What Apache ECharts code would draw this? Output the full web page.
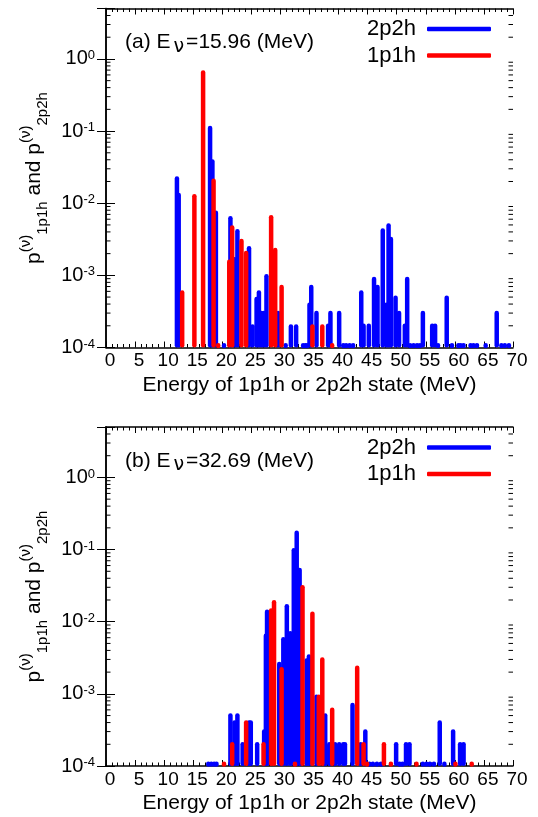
<!DOCTYPE html>
<html><head><meta charset="utf-8">
<script src="https://cdn.jsdelivr.net/npm/echarts@6/dist/echarts.min.js"></script>
<style>html,body{margin:0;padding:0;background:#fff}#c{width:538px;height:817px}</style>
</head><body><div id="c"></div>
<script>
// ---------- data ----------
const xMin = 0, xMax = 70, xStep = 5;
const yMin = 1e-4, yMax = 5;
const minorYTicks = [];
[-4,-3,-2,-1,0].forEach(function(d){ for (let m = 2; m <= 9; m++) { const v = m * Math.pow(10, d); if (v < yMax) minorYTicks.push(+v.toPrecision(3)); } });

const titleA = '(a) E';
const titleB = '(b) E';
const energyA = '=15.96 (MeV)';
const energyB = '=32.69 (MeV)';
const seriesNames = ['2p2h', '1p1h'];
const xAxisTitle = 'Energy of 1p1h or 2p2h state (MeV)';

// panel (a): [energy MeV, probability]
const a2p2h = [[12.2,0.022],[12.5,0.013],[17.9,0.11],[18.3,0.038],[18.9,0.0074],[20.3,1.05e-4],[21.4,0.0062],[22.1,0.00167],[22.6,0.0041],[24.6,0.00237],[25.2,1.96e-4],[25.9,4.7e-4],[26.3,5.8e-4],[26.7,3.0e-4],[27.1,3.0e-4],[27.6,9.7e-4],[29.6,3.0e-4],[30.9,1.05e-4],[31.8,1.96e-4],[32.7,1.96e-4],[33.9,1.05e-4],[34.3,1.05e-4],[34.6,1.05e-4],[35.0,3.9e-4],[35.3,6.9e-4],[36.2,3.0e-4],[38.2,2e-4],[38.6,3e-4],[40.1,3e-4],[40.8,1.05e-4],[41.3,1.05e-4],[41.9,1.05e-4],[42.5,1.05e-4],[43.9,5.8e-4],[44.3,2e-4],[45.2,2e-4],[46.1,8.9e-4],[46.7,6.9e-4],[47.6,0.0042],[48.2,3.9e-4],[48.6,0.0049],[49.0,0.0032],[49.8,4.9e-4],[50.4,3e-4],[51.4,2e-4],[51.8,8.9e-4],[52.3,1.05e-4],[52.9,1.05e-4],[53.5,1.05e-4],[54.0,1.05e-4],[54.5,3e-4],[56.1,2e-4],[56.6,2e-4],[57.1,1.05e-4],[58.6,4.9e-4],[59.5,1.05e-4],[60.6,1.05e-4],[61.0,1.05e-4],[61.5,1.05e-4],[62.7,1.05e-4],[63.2,1.05e-4],[63.8,1.05e-4],[65.3,1.05e-4],[67.2,3e-4],[68.0,1.05e-4],[68.6,1.05e-4],[69.3,1.05e-4]];
const a1p1h = [[13.1,5.8e-4],[15.2,0.0125],[16.7,0.65],[18.5,0.0205],[19.3,1.05e-4],[21.2,0.00155],[21.7,0.0046],[23.3,0.003],[24.1,0.00204],[28.4,0.0064],[29.1,0.00225],[30.2,6.9e-4],[35.5,1.96e-4],[37.2,1.96e-4],[38.9,1.05e-4]];

// panel (b)
const b2p2h = [[17.6,1.05e-4],[18.1,1.05e-4],[18.6,1.05e-4],[19.0,1.05e-4],[21.4,5e-4],[22.1,4e-4],[22.6,5e-4],[23.5,2e-4],[24.6,4e-4],[24.9,4e-4],[26.0,2e-4],[27.2,3e-4],[27.5,0.0064],[27.7,0.0137],[29.8,0.0026],[30.5,0.0057],[31.1,0.0164],[31.7,0.0069],[32.3,0.098],[32.8,0.171],[33.3,0.052],[34.5,0.0029],[34.9,0.0033],[36.2,9.1e-4],[37.7,5e-4],[38.4,2e-4],[39.4,2e-4],[40.1,2e-4],[40.8,2e-4],[41.1,2e-4],[42.4,7e-4],[43.8,2e-4],[44.6,3e-4],[45.3,1.05e-4],[45.9,1.05e-4],[46.6,1.05e-4],[47.3,1.05e-4],[49.9,2e-4],[50.5,1.05e-4],[51.0,1.05e-4],[51.6,2e-4],[52.2,2e-4],[54.5,1.05e-4],[55.1,1.05e-4],[55.7,1.05e-4],[56.4,1.05e-4],[57.4,4e-4],[58.2,1.05e-4],[59.7,3e-4],[60.9,2e-4],[61.5,2e-4]];
const b1p1h = [[20.3,1.05e-4],[21.7,2e-4],[24.1,4e-4],[27.1,2e-4],[28.4,0.0143],[28.9,0.0186],[30.2,0.0022],[32.5,1.05e-4],[33.8,0.030],[35.5,0.0129],[36.6,9.1e-4],[37.2,0.003],[38.9,6e-4],[43.2,0.0023],[44.3,2e-4],[44.9,1.05e-4],[47.8,2e-4],[49.0,1.05e-4],[53.4,1.05e-4],[60.1,1.05e-4],[62.9,1.05e-4]];

// ---------- chart ----------
const FONT = '"Liberation Sans", Arial, sans-serif';
const BLUE = '#0000ff', RED = '#ff0000';
const chart = echarts.init(document.getElementById('c'), null, {renderer: 'canvas'});

const grids = [
  {left: 106, top: 8.5, width: 407, height: 339},
  {left: 106, top: 427, width: 407, height: 339}
];

function yLabel(v) {
  const e = Math.log10(v);
  const r = Math.round(e);
  if (Math.abs(e - r) > 1e-6) return '';
  return '{b|10}{s|' + r + '}';
}

function spike(params, api) {
  const x = api.value(0), v = api.value(1);
  const top = api.coord([x, v]);
  const base = api.coord([x, yMin]);
  return {type: 'line', shape: {x1: top[0], y1: base[1] - 2.2, x2: top[0], y2: top[1]},
    style: {stroke: api.visual('color'), lineWidth: 4.5, lineCap: 'round'}};
}
function minorTick(params, api) {
  const v = api.value(1);
  const l = api.coord([xMin, v]), r = api.coord([xMax, v]);
  return {type: 'group', children: [
    {type: 'line', shape: {x1: l[0], y1: l[1], x2: l[0] + 4.5, y2: l[1]}, style: {stroke: '#000', lineWidth: 1}},
    {type: 'line', shape: {x1: r[0] - 4.5, y1: r[1], x2: r[0], y2: r[1]}, style: {stroke: '#000', lineWidth: 1}}
  ]};
}

const xAxes = [], yAxes = [], series = [], titles = [], legends = [];
const panels = [
  {t: titleA, e: energyA, s2: a2p2h, s1: a1p1h},
  {t: titleB, e: energyB, s2: b2p2h, s1: b1p1h}
];
const axisLineStyle = {color: '#000', width: 1.5};
panels.forEach(function(p, i) {
  const g = grids[i];
  xAxes.push({type: 'value', gridIndex: i, min: xMin, max: xMax, interval: xStep, position: 'bottom',
    axisLine: {onZero: false, lineStyle: axisLineStyle},
    axisTick: {inside: true, length: 6, lineStyle: {color: '#000'}},
    minorTick: {show: true, splitNumber: 5, length: 3.5, lineStyle: {color: '#000'}},
    splitLine: {show: false},
    axisLabel: {fontSize: 19, color: '#000', fontFamily: FONT, margin: 4, padding: [0, 0, 0, 8]},
    name: xAxisTitle, nameLocation: 'middle', nameGap: 27,
    nameTextStyle: {fontSize: 21, color: '#000', fontFamily: FONT}});
  xAxes.push({type: 'value', gridIndex: i, min: xMin, max: xMax, interval: xStep, position: 'top',
    axisLine: {onZero: false, lineStyle: axisLineStyle},
    axisTick: {inside: true, length: 6, lineStyle: {color: '#000'}},
    minorTick: {show: true, splitNumber: 5, length: 3.5, lineStyle: {color: '#000'}},
    splitLine: {show: false}, axisLabel: {show: false}});
  yAxes.push({type: 'log', logBase: 10, gridIndex: i, min: yMin, max: yMax, position: 'left',
    axisLine: {show: true, lineStyle: axisLineStyle},
    axisTick: {inside: true, length: 9, lineStyle: {color: '#000'}},
    splitLine: {show: false},
    axisLabel: {formatter: yLabel, margin: 11, color: '#000', fontFamily: FONT,
      rich: {b: {fontSize: 20, lineHeight: 20, fontFamily: FONT, color: '#000'},
             s: {fontSize: 13, lineHeight: 9, verticalAlign: 'top', fontFamily: FONT, color: '#000'}}},
    name: '{m|p}{sup|(ν)}{sub|1p1h}{m| and p}{sup|(ν)}{sub|2p2h}',
    nameLocation: 'middle', nameRotate: 90, nameGap: 52,
    nameTextStyle: {color: '#000', fontFamily: FONT,
      rich: {m: {fontSize: 21, lineHeight: 32, fontFamily: FONT, color: '#000'},
             sup: {fontSize: 15, lineHeight: 26, verticalAlign: 'top', fontFamily: FONT, color: '#000'},
             sub: {fontSize: 15, lineHeight: 14, verticalAlign: 'bottom', fontFamily: FONT, color: '#000'}}}});
  yAxes.push({type: 'log', logBase: 10, gridIndex: i, min: yMin, max: yMax, position: 'right',
    axisLine: {show: true, lineStyle: axisLineStyle},
    axisTick: {inside: true, length: 9, lineStyle: {color: '#000'}},
    splitLine: {show: false}, axisLabel: {show: false}});
  const xi = i * 2, yi = i * 2;
  series.push({type: 'custom', name: seriesNames[0], xAxisIndex: xi, yAxisIndex: yi, data: p.s2,
    renderItem: spike, itemStyle: {color: BLUE}, z: 3});
  series.push({type: 'custom', name: seriesNames[1], xAxisIndex: xi, yAxisIndex: yi, data: p.s1,
    renderItem: spike, itemStyle: {color: RED}, z: 4});
  series.push({type: 'custom', xAxisIndex: xi, yAxisIndex: yi, silent: true,
    data: minorYTicks.map(function(v){ return [xMin, v]; }), renderItem: minorTick, z: 5});
  titles.push({text: '{m|' + p.t + '}{nu|ν}{m|' + p.e + '}', left: 125, top: g.top + 20, padding: 0,
    textStyle: {fontWeight: 'normal', rich: {m: {fontSize: 21, lineHeight: 28, fontWeight: 'normal', fontFamily: FONT, color: '#000'},
                       nu: {fontSize: 19, lineHeight: 20, fontWeight: 'normal', verticalAlign: 'bottom', fontFamily: 'DejaVu Sans', color: '#000', padding: [0, 2, 0, 3]}}}});
  legends.push({data: seriesNames, orient: 'vertical', align: 'right', right: 47, top: g.top + 9.5,
    itemWidth: 64, itemHeight: 4.5, itemGap: 4.5, icon: 'roundRect', padding: 0,
    textStyle: {fontSize: 22, lineHeight: 22, fontFamily: FONT, color: '#000', padding: [0, 6, 0, 0]},
    selectedMode: false});
});

chart.setOption({
  animation: false,
  backgroundColor: '#fff',
  title: titles,
  legend: legends,
  grid: grids,
  xAxis: xAxes,
  yAxis: yAxes,
  series: series
});
</script>
</body></html>
